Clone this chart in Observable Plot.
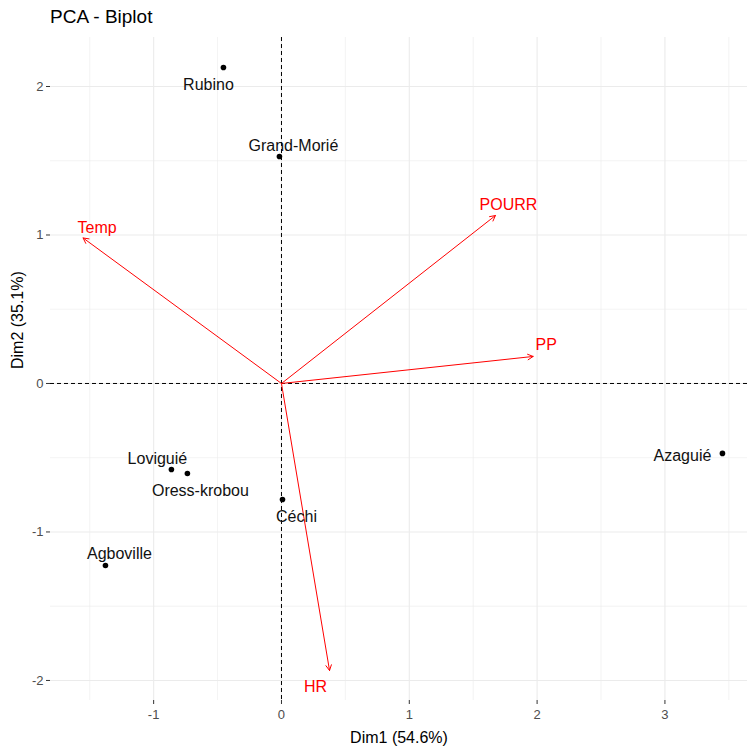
<!DOCTYPE html>
<html>
<head>
<meta charset="utf-8">
<script src="https://cdn.jsdelivr.net/npm/d3@7"></script>
<script src="https://cdn.jsdelivr.net/npm/@observablehq/plot@0.6"></script>
<style>
  html, body { margin: 0; padding: 0; background: #fff; }
  #wrap { position: relative; width: 753px; height: 750px; font-family: "Liberation Sans", Arial, sans-serif; }
  #title { position: absolute; left: 50px; top: 6px; font-size: 19px; color: #000; }
  #chart { position: absolute; left: 0; top: 0; }
</style>
</head>
<body>
<div id="wrap"><div id="chart"></div><div id="title">PCA - Biplot</div></div>
<script>
// Individuals
const indNames = ["Rubino", "Grand-Morié", "Loviguié", "Oress-krobou", "Céchi", "Agboville", "Azaguié"];
const indDim1  = [-0.454, -0.016, -0.861, -0.736, 0.008, -1.377, 3.45];
const indDim2  = [2.128, 1.529, -0.579, -0.606, -0.781, -1.226, -0.471];
// Variables
const varNames = ["Temp", "POURR", "PP", "HR"];
const varDim1  = [-1.552, 1.674, 1.969, 0.376];
const varDim2  = [0.98, 1.131, 0.182, -1.933];
// Ticks / grid
const xTicks = [-1, 0, 1, 2, 3];
const yTicks = [-2, -1, 0, 1, 2];
const xMinor = [-1.5, -0.5, 0.5, 1.5, 2.5, 3.5];
const yMinor = [-1.5, -0.5, 0.5, 1.5];
const xTitle = "Dim1 (54.6%)";
const yTitle = "Dim2 (35.1%)";

// label offsets in pixels (layout, repel-like placement)
const indOffsets = {"Rubino": [-15, 17], "Grand-Morié": [14, -11], "Loviguié": [-14, -11], "Oress-krobou": [13, 17], "Céchi": [14, 17], "Agboville": [14, -12], "Azaguié": [-40, 2]};
const varOffsets = {"Temp": [14, -10], "POURR": [13, -11], "PP": [13, -12], "HR": [-14, 16]};

const ind = indNames.map((n, i) => ({name: n, x: indDim1[i], y: indDim2[i]}));
const vars = varNames.map((n, i) => ({name: n, x: varDim1[i], y: varDim2[i]}));

const font = "Liberation Sans, Arial, sans-serif";

const plot = Plot.plot({
  width: 753, height: 750,
  marginTop: 37, marginBottom: 50, marginLeft: 50, marginRight: 6,
  style: {fontFamily: font, background: "#fff"},
  x: {domain: [-1.807, 3.646]},
  y: {domain: [-2.135, 2.33]},
  marks: [
    Plot.ruleX(xMinor, {stroke: "#ebebeb", strokeWidth: 0.6}),
    Plot.ruleY(yMinor, {stroke: "#ebebeb", strokeWidth: 0.6}),
    Plot.ruleX(xTicks, {stroke: "#ebebeb", strokeWidth: 1.1}),
    Plot.ruleY(yTicks, {stroke: "#ebebeb", strokeWidth: 1.1}),
    Plot.axisX(xTicks, {ticks: xTicks, tickSize: 4, tickPadding: 5, fontSize: 13, stroke: "#333", fill: "#4d4d4d", label: null, tickFormat: d => d < 0 ? "-" + Math.abs(d) : String(d)}),
    Plot.axisY(yTicks, {ticks: yTicks, tickSize: 4, tickPadding: 3, fontSize: 13, stroke: "#333", fill: "#4d4d4d", label: null, tickFormat: d => d < 0 ? "-" + Math.abs(d) : String(d)}),
    Plot.ruleX([0], {stroke: "#000", strokeWidth: 1, strokeDasharray: "4,3"}),
    Plot.ruleY([0], {stroke: "#000", strokeWidth: 1, strokeDasharray: "4,3"}),
    Plot.arrow(vars, {x1: () => 0, y1: () => 0, x2: "x", y2: "y", stroke: "#ff0000", strokeWidth: 1, headLength: 9, headAngle: 55}),
    Plot.dot(ind, {x: "x", y: "y", r: 2.8, fill: "#000", stroke: null}),
    ...ind.map(d => Plot.text([d], {x: "x", y: "y", text: "name", fontSize: 16, fill: "#111", lineAnchor: "middle", dx: indOffsets[d.name][0], dy: indOffsets[d.name][1]})),
    ...vars.map(d => Plot.text([d], {x: "x", y: "y", text: "name", fontSize: 16, fill: "#ff0000", lineAnchor: "middle", dx: varOffsets[d.name][0], dy: varOffsets[d.name][1]})),
    Plot.text([xTitle], {frameAnchor: "bottom", dy: 37, fontSize: 16, fill: "#000", lineAnchor: "middle"}),
    Plot.text([yTitle], {frameAnchor: "left", dx: -33, rotate: -90, fontSize: 16, fill: "#000", lineAnchor: "middle"})
  ]
});
document.getElementById("chart").appendChild(plot);
</script>
</body>
</html>
